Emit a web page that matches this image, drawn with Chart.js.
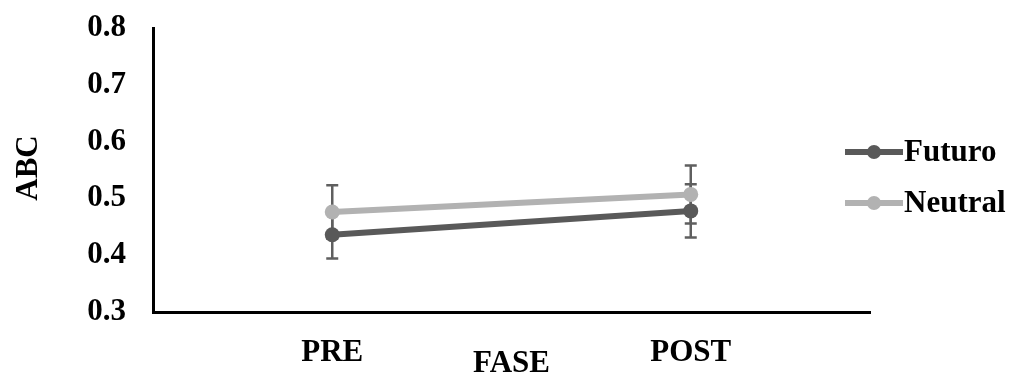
<!DOCTYPE html>
<html>
<head>
<meta charset="utf-8">
<script src="https://cdn.jsdelivr.net/npm/chart.js@4"></script>
<style>
  html, body { margin: 0; padding: 0; background: #fff; }
  #wrap { width: 1015px; height: 375px; }
</style>
</head>
<body>
<div id="wrap"><canvas id="chart" width="1015" height="375"></canvas></div>
<script>
// data
const fases = ['PRE', 'POST'];
const futuro = [0.436, 0.478];
const neutral = [0.476, 0.507];
const futuroErr = [0.042, 0.047];
const neutralErr = [0.047, 0.051];
const yTicks = [0.3, 0.4, 0.5, 0.6, 0.7, 0.8];

const FONT = "'Liberation Serif', 'Times New Roman', serif";
const FSIZE = 31;
const errors = [futuroErr, neutralErr];

// error bars under the points
const errorBars = {
  id: 'errorBars',
  beforeDatasetsDraw(chart) {
    const ctx = chart.ctx;
    const yScale = chart.scales.y;
    ctx.save();
    ctx.strokeStyle = '#5f5f5f';
    ctx.lineWidth = 2.5;
    chart.data.datasets.forEach((ds, i) => {
      const meta = chart.getDatasetMeta(i);
      meta.data.forEach((pt, j) => {
        const v = ds.data[j], e = errors[i][j];
        const top = yScale.getPixelForValue(v + e);
        const bot = yScale.getPixelForValue(v - e);
        ctx.beginPath();
        ctx.moveTo(pt.x, top); ctx.lineTo(pt.x, bot);
        ctx.moveTo(pt.x - 6, top); ctx.lineTo(pt.x + 6, top);
        ctx.moveTo(pt.x - 6, bot); ctx.lineTo(pt.x + 6, bot);
        ctx.stroke();
      });
    });
    ctx.restore();
  }
};

// axis titles and legend
const extras = {
  id: 'extras',
  afterDraw(chart) {
    const ctx = chart.ctx;
    const area = chart.chartArea;
    ctx.save();
    ctx.fillStyle = '#000';
    ctx.font = 'bold ' + FSIZE + 'px ' + FONT;
    ctx.textAlign = 'center';
    ctx.textBaseline = 'middle';
    ctx.fillText('FASE', (area.left + area.right) / 2, 364);
    ctx.translate(29, 168);
    ctx.rotate(-Math.PI / 2);
    ctx.fillText('ABC', 0, 0);
    ctx.restore();

    ctx.save();
    chart.data.datasets.forEach((ds, i) => {
      const y = 152 + i * 51;
      ctx.strokeStyle = ds.borderColor;
      ctx.lineWidth = 6;
      ctx.beginPath();
      ctx.moveTo(845, y); ctx.lineTo(903, y);
      ctx.stroke();
      ctx.fillStyle = ds.borderColor;
      ctx.beginPath();
      ctx.arc(874, y, 7, 0, Math.PI * 2);
      ctx.fill();
      ctx.fillStyle = '#000';
      ctx.font = 'bold ' + FSIZE + 'px ' + FONT;
      ctx.textAlign = 'left';
      ctx.textBaseline = 'middle';
      ctx.fillText(ds.label, 904, y + 1);
    });
    ctx.restore();
  }
};

new Chart(document.getElementById('chart'), {
  type: 'line',
  data: {
    labels: fases,
    datasets: [
      {
        label: 'Futuro',
        data: futuro,
        borderColor: '#595959',
        backgroundColor: '#595959',
        borderWidth: 6,
        pointRadius: 7.5,
        pointBorderWidth: 0
      },
      {
        label: 'Neutral',
        data: neutral,
        borderColor: '#b2b2b2',
        backgroundColor: '#b2b2b2',
        borderWidth: 6,
        pointRadius: 7.5,
        pointBorderWidth: 0
      }
    ]
  },
  options: {
    responsive: false,
    animation: false,
    layout: { padding: { top: 28, right: 145, left: 0, bottom: 0 } },
    plugins: {
      legend: { display: false },
      tooltip: { enabled: false }
    },
    scales: {
      x: {
        offset: true,
        grid: { display: false, drawTicks: false },
        border: { display: true, color: '#000', width: 3 },
        ticks: {
          padding: 22,
          color: '#000',
          font: { family: FONT, size: FSIZE, weight: 'bold' }
        },
        afterFit(scale) { scale.height = 63; scale.paddingLeft = 0; scale.paddingRight = 0; }
      },
      y: {
        min: 0.3,
        max: 0.8,
        grid: { display: false, drawTicks: false },
        border: { display: true, color: '#000', width: 3 },
        afterBuildTicks(scale) { scale.ticks = yTicks.map(v => ({ value: v })); },
        ticks: {
          padding: 27,
          color: '#000',
          font: { family: FONT, size: FSIZE, weight: 'bold' },
          callback: v => v.toFixed(1)
        },
        afterFit(scale) { scale.width = 153; scale.paddingTop = 0; scale.paddingBottom = 0; }
      }
    }
  },
  plugins: [errorBars, extras]
});
</script>
</body>
</html>
